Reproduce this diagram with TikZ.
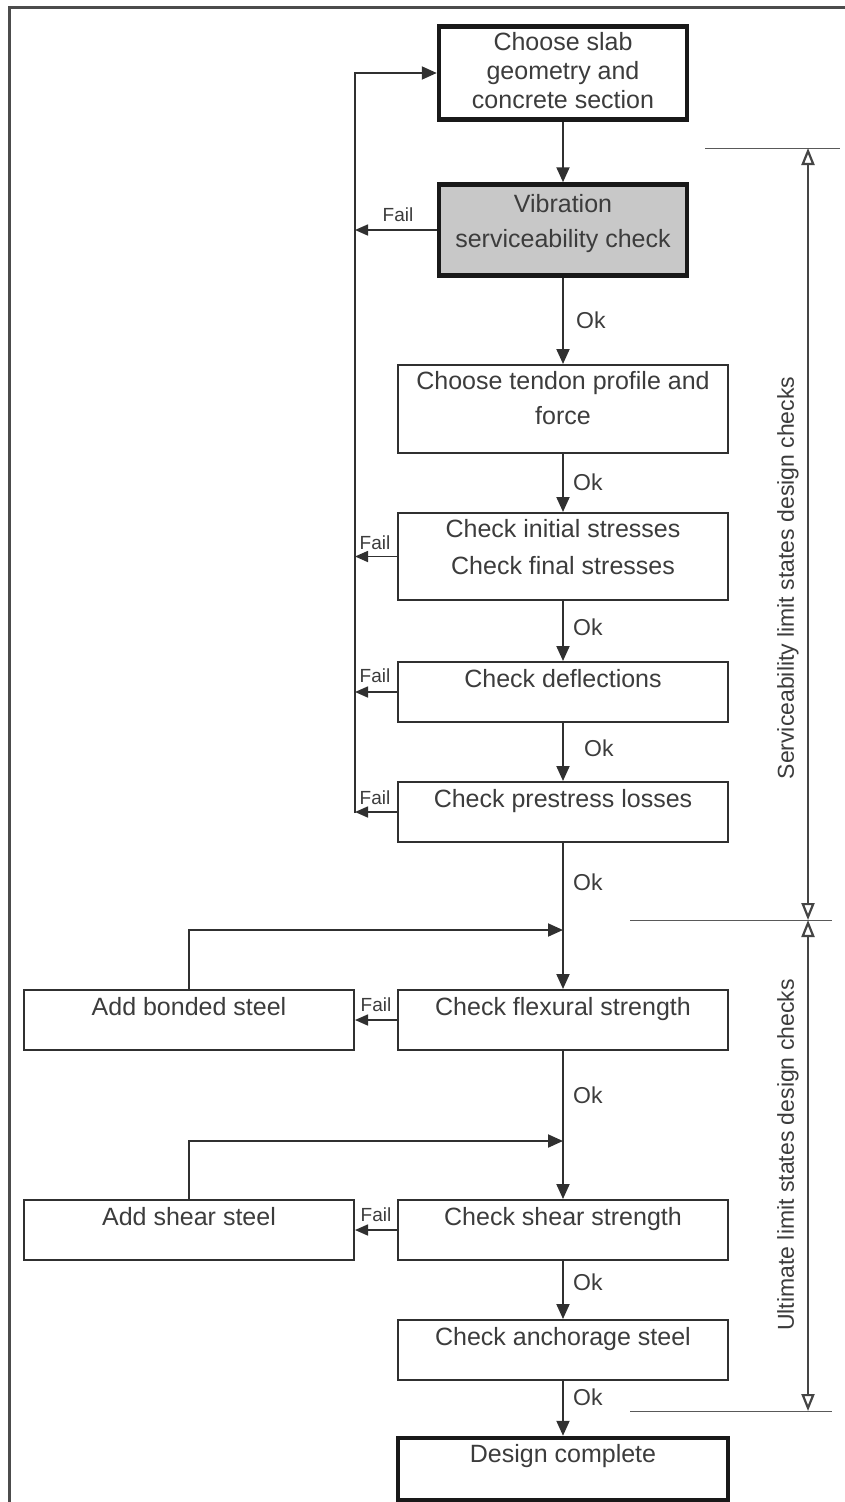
\documentclass[tikz,border=0pt]{standalone}
\usepackage{fontspec}
\setmainfont{Liberation Sans}
\usetikzlibrary{arrows.meta}
\definecolor{ink}{HTML}{303030}
\definecolor{txtc}{HTML}{3C3C3C}
\definecolor{shade}{HTML}{C8C8C8}
\begin{document}
\begin{tikzpicture}[x=1pt,y=-1pt,
  box/.style={draw=ink, line width=2pt, minimum width=330pt, minimum height=60pt, inner sep=0pt, fill=white},
  bigbox/.style={box, line width=4.5pt, draw=black!90},
  btxt/.style={anchor=north, inner sep=0pt, text=txtc, font=\fontsize{25}{35}\selectfont, align=center},
  flow/.style={draw=ink, line width=2pt, -{Triangle[length=15pt,width=13pt]}},
  fail/.style={draw=ink, line width=1.6pt, -{Triangle[length=13pt,width=11pt]}},
  oklab/.style={anchor=west, inner sep=0pt, text=txtc, font=\fontsize{23}{23}\selectfont},
  faillab/.style={inner sep=0pt, text=txtc, font=\fontsize{19}{19}\selectfont},
  ext/.style={draw=ink!80, line width=1pt},
  dim/.style={draw=ink!90, line width=2.2pt, {Triangle[open,length=17pt,width=13pt]}-{Triangle[open,length=17pt,width=13pt]}},
  side/.style={rotate=90, inner sep=0pt, text=txtc, font=\fontsize{23}{23}\selectfont}
]
\useasboundingbox (0,0) rectangle (845,1502);
\fill[white] (0,0) rectangle (845,1502);
% frame
\coordinate (fr1) at (9,1502);
\coordinate (fr2) at (9,7.5);
\coordinate (fr3) at (845,7.5);
\draw[line width=3pt, draw=black!70] (fr1) -- (fr2) -- (fr3);

% boxes
\node[bigbox, minimum width=248pt, minimum height=93pt] (b1) at (563,73) {};
\node[bigbox, minimum width=248pt, minimum height=91pt, fill=shade] (b2) at (563,230) {};
\node[box, minimum height=88pt] (b3) at (563,409) {};
\node[box, minimum height=87pt] (b4) at (563,556.5) {};
\node[box] (b5) at (563,692) {};
\node[box] (b6) at (563,812) {};
\node[box] (b7) at (563,1020) {};
\node[box] (b8) at (189,1020) {};
\node[box] (b9) at (563,1230) {};
\node[box] (b10) at (189,1230) {};
\node[box] (b11) at (563,1350) {};
\node[bigbox, minimum height=62pt] (b12) at (563,1469) {};

% texts
\node[btxt, font=\fontsize{25}{29}\selectfont] (t1) at ([yshift=-8pt]b1.north) {Choose slab\\geometry and\\concrete section};
\node[btxt] (t2) at ([yshift=-12pt]b2.north) {Vibration\\serviceability check};
\node[btxt] (t3) at ([yshift=-7pt]b3.north) {Choose tendon profile and\\force};
\node[btxt, font=\fontsize{25}{37}\selectfont] (t4) at ([yshift=-7pt]b4.north) {Check initial stresses\\Check final stresses};
\node[btxt] (t5) at ([yshift=-8pt]b5.north) {Check deflections};
\node[btxt] (t6) at ([yshift=-8pt]b6.north) {Check prestress losses};
\node[btxt] (t7) at ([yshift=-8pt]b7.north) {Check flexural strength};
\node[btxt] (t8) at ([yshift=-8pt]b8.north) {Add bonded steel};
\node[btxt] (t9) at ([yshift=-8pt]b9.north) {Check shear strength};
\node[btxt] (t10) at ([yshift=-8pt]b10.north) {Add shear steel};
\node[btxt] (t11) at ([yshift=-8pt]b11.north) {Check anchorage steel};
\node[btxt] (t12) at ([yshift=-8pt]b12.north) {Design complete};

% main flow
\draw[flow] (b1.south) -- (b2.north);
\draw[flow] (b2.south) -- (b3.north);
\draw[flow] (b3.south) -- (b4.north);
\draw[flow] (b4.south) -- (b5.north);
\draw[flow] (b5.south) -- (b6.north);
\draw[flow] (b6.south) -- (b7.north);
\draw[flow] (b7.south) -- (b9.north);
\draw[flow] (b9.south) -- (b11.north);
\draw[flow] (b11.south) -- (b12.north);

% ok labels
\node[oklab] (ok1) at (576,320) {Ok};
\node[oklab] (ok2) at (573,482) {Ok};
\node[oklab] (ok3) at (573,627) {Ok};
\node[oklab] (ok4) at (584,748) {Ok};
\node[oklab] (ok5) at (573,882) {Ok};
\node[oklab] (ok6) at (573,1095) {Ok};
\node[oklab] (ok7) at (573,1282) {Ok};
\node[oklab] (ok8) at (573,1397) {Ok};

% feedback loop
\coordinate (fbtop) at (355,73);
\coordinate (fbbot) at (355,813);
\draw[flow] (fbbot) -- (fbtop) -- (b1.west);
\draw[fail] (b2.west) -- (b2.west -| fbtop);
\draw[fail] (b4.west) -- (b4.west -| fbtop);
\draw[fail] (b5.west) -- (b5.west -| fbtop);
\draw[fail] (b6.west) -- (b6.west -| fbtop);
\node[faillab] (f1) at (398,215) {Fail};
\node[faillab] (f2) at (375,543) {Fail};
\node[faillab] (f3) at (375,676) {Fail};
\node[faillab] (f4) at (375,798) {Fail};

% strength loops
\coordinate (m1) at (563,930);
\coordinate (m2) at (563,1141);
\draw[fail] (b7.west) -- (b8.east);
\draw[fail] (b9.west) -- (b10.east);
\node[faillab] (f5) at (376,1005) {Fail};
\node[faillab] (f6) at (376,1215) {Fail};
\draw[flow] (b8.north) |- (m1);
\draw[flow] (b10.north) |- (m2);

% dimension lines
\coordinate (d1) at (808,148);
\coordinate (d2) at (808,920);
\coordinate (d3) at (808,1411);
\coordinate (e1a) at (705,148);
\coordinate (e1b) at (840,148);
\coordinate (e2a) at (630,920);
\coordinate (e2b) at (832,920);
\coordinate (e3a) at (630,1411);
\coordinate (e3b) at (832,1411);
\draw[ext] (e1a) -- (e1b);
\draw[ext] (e2a) -- (e2b);
\draw[ext] (e3a) -- (e3b);
\draw[dim] (d1) -- (d2);
\draw[dim] (d2) -- (d3);
\node[side] (s1) at (788,578) {Serviceability limit states design checks};
\node[side] (s2) at (788,1155) {Ultimate limit states design checks};
\end{tikzpicture}
\end{document}
